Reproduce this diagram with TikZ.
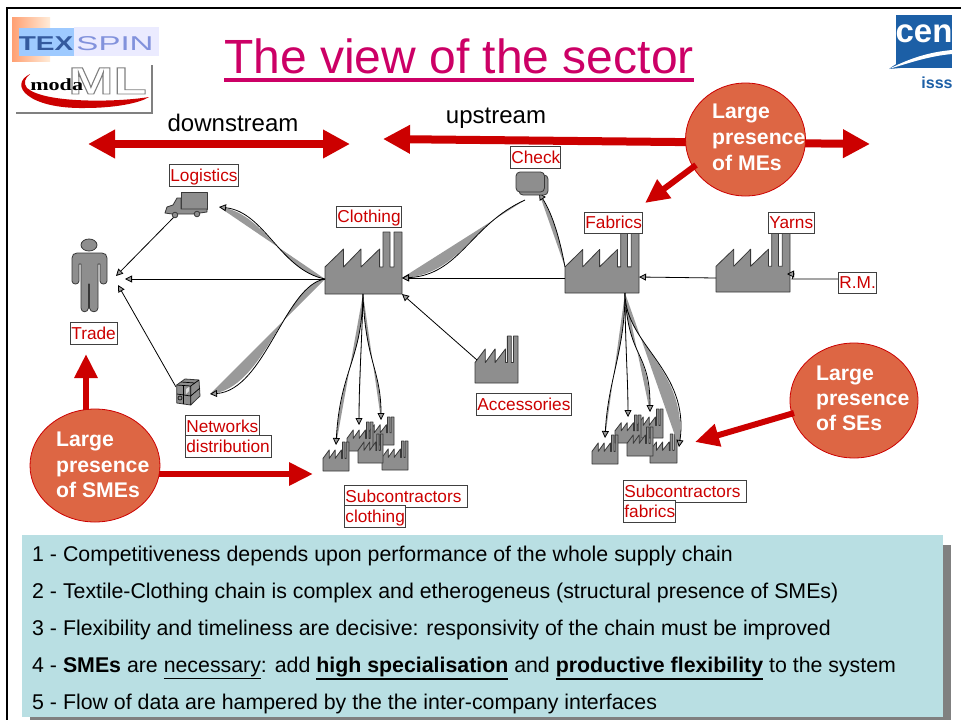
\documentclass[tikz,border=0pt]{standalone}
\usepackage{fontspec}
\setmainfont{Liberation Sans}
\newfontfamily\serifb{Liberation Serif}[BoldFont={Liberation Serif Bold}]
\usetikzlibrary{arrows.meta,shapes.geometric,shadings}
\definecolor{flowgray}{HTML}{9A9A9A}
\definecolor{plantgray}{HTML}{8E8E8E}
\definecolor{plantedge}{HTML}{383838}
\definecolor{redarrow}{HTML}{CC0000}
\definecolor{bubblefill}{HTML}{DD6644}
\definecolor{titlecol}{HTML}{CC0066}
\definecolor{panelcol}{HTML}{B9DFE3}
\definecolor{cenblue}{HTML}{1C5FA6}
\definecolor{texblue}{HTML}{345A9E}
\definecolor{spinblue}{HTML}{8292DC}
\newcommand{\sz}[1]{\fontsize{#1}{#1}\selectfont}
\newcommand{\ulbox}[3]{\leavevmode\vtop{\hbox{#3}\kern#1\hrule height #2}}
\tikzset{
  plantbit/.style={fill=plantgray,draw=plantedge,line width=.8pt,line join=round},
  factory/.pic={
    \path[plantbit] (0,35)--(18.5,17)--(18.5,35)--(36,17)--(36,35)--(54.6,17)--(54.6,35)--(58,35)
      --(58,0)--(65,0)--(65,35)--(69,35)--(69,0)--(77,0)--(77,62)--(0,62)--cycle;
  },
  lab/.style={draw=black!75,fill=white,text=redarrow,line width=.8pt,inner ysep=0pt,inner xsep=1pt,anchor=north west,
    font=\sz{17.25},text height=15pt,text depth=3.5pt,align=left},
  plainline/.style={draw=black,line width=.8pt,-{Triangle[length=7pt,width=7pt,fill=flowgray]}},
  flowline/.style={draw=black,line width=.8pt,-{Triangle[length=7pt,width=7pt,fill=flowgray]}},
  midarrow/.style={draw=redarrow,line width=6pt,-{Triangle[length=24pt,width=22pt,fill=redarrow]}},
  bubble/.style={ellipse,fill=bubblefill,draw=redarrow,line width=.8pt,inner sep=0pt},
  bubbletext/.style={text=white,font=\sz{21.2}\bfseries,align=left,anchor=west,inner sep=0pt},
  panelline/.style={anchor=base west,inner sep=0pt,font=\sz{21.33}}
}
\newcommand{\plant}[5]{%
  \pic[shift={(#2,#3)},xscale=#4/77,yscale=#5/62] {factory};\coordinate (#1) at (#2,#3);}
\newcommand{\flow}[4]{%
  \fill[flowgray] (#1) .. controls (#2) and (#3) .. (#4) -- cycle;
  \draw[flowline] (#1) .. controls (#2) and (#3) .. (#4);}
\begin{document}
\begin{tikzpicture}[x=1pt,y=-1pt]
\useasboundingbox (0,0) rectangle (961,720);
\fill[white] (0,0) rectangle (961,720);
% frame
\draw[black,line width=2.6pt] (7,720) -- (7,8) -- (961,8);

% TexSpin logo
\shade[left color=orange!65!red!55,right color=orange!15] (12,17) rectangle (50,61);
\fill[blue!8!white] (74,27) rectangle (159,56);
\fill[blue!55!cyan!38!white] (19,28) rectangle (74,56);
\node[anchor=base,inner sep=0,text=texblue,transform shape,xscale=1.4,font=\sz{20}\bfseries] (tex) at (46,50) {TEX};
\node[anchor=base,inner sep=0,text=spinblue,transform shape,xscale=1.65,font=\sz{20}] (spin) at (115,50) {SPIN};

% modaML logo
\fill[white] (16,65) rectangle (152,113);
\draw[black!50,line width=1.6pt] (16,113) -- (152,113) -- (152,65);
\fill[redarrow] (30,74) .. controls (8,85) and (28,109) .. (85,108) .. controls (115,108) and (140,103) .. (149,97) .. controls (120,102) and (45,104) .. (27,88) .. controls (23,83) and (25,78) .. (30,74);
\node[anchor=base west,inner sep=0,text=black!8,transform shape,xscale=1.43,font=\sz{38}\bfseries] (mltext) at (68,94)
  {\special{pdf:code 1 Tr 0.8 w 0.5 0.5 0.5 RG}ML\special{pdf:code 0 Tr}};
\node[anchor=base west,inner sep=0,text=black,transform shape,xscale=1.3,font=\serifb\sz{17}\bfseries] (moda) at (30,90) {moda};

% CEN logo
\fill[cenblue] (896,15) rectangle (952,68);
\fill[cenblue] (889,69) .. controls (893,66) and (896,64) .. (900,62) -- (900,68) -- cycle;
\fill[white] (889,69) .. controls (910,58) and (930,52) .. (952,50) -- (952,54) .. controls (930,56) and (912,62) .. (889,69) -- cycle;
\node[anchor=base,inner sep=0,text=white,font=\sz{33}\bfseries] (cen) at (924,42) {cen};
\node[anchor=base,inner sep=0,text=cenblue,font=\sz{16}\bfseries] (isss) at (937,88) {isss};

% title
\node[anchor=base west,inner sep=0,text=titlecol,font=\sz{48}] (title) at (224,73) {\ulbox{5pt}{3.6pt}{The view of the sector}};

% stream arrows
\node[anchor=base,inner sep=0,font=\sz{24}] (down) at (233,131) {downstream};
\node[anchor=base,inner sep=0,font=\sz{24}] (up) at (496,123) {upstream};
\coordinate (dl) at (88,144); \coordinate (dr) at (350,144);
\coordinate (ul) at (383,139); \coordinate (ur) at (870,144);
\draw[draw=redarrow,line width=8pt,{Triangle[length=27pt,width=27pt,fill=redarrow]}-{Triangle[length=27pt,width=27pt,fill=redarrow]}] (dl) -- (dr);
\draw[draw=redarrow,line width=8pt,{Triangle[length=27pt,width=27pt,fill=redarrow]}-{Triangle[length=27pt,width=27pt,fill=redarrow]}] (ul) -- (ur);

% plants
\plant{clothing}{325}{232}{77}{62}
\plant{fabrics}{565}{233}{74}{60}
\plant{yarns}{716}{233}{74}{59}
\plant{access}{475}{336}{43}{47}
\plant{cs5}{382}{441}{26}{29}
\plant{cs3}{368}{417}{26}{28}
\plant{cs2}{347}{422}{26}{29}
\plant{cs4}{358}{434}{25}{29}
\plant{cs1}{323}{442}{26}{29}
\plant{fs3}{637}{409}{26}{29}
\plant{fs2}{615}{415}{26}{28}
\plant{fs5}{650}{434}{27}{29}
\plant{fs4}{627}{427}{26}{29}
\plant{fs1}{592}{435}{26}{29}

% flow end points
\coordinate (cloL) at (325,279); \coordinate (cloR) at (402,278); \coordinate (cloB) at (363,294);
\coordinate (cloBR) at (402,294);
\coordinate (fabL) at (565,278); \coordinate (fabLup) at (565,267); \coordinate (fabR) at (639,277);
\coordinate (fabB) at (625,293); \coordinate (yarL) at (716,278);
\coordinate (logIn) at (219,207); \coordinate (logOut) at (174,217);
\coordinate (netIn) at (210,394); \coordinate (netOut) at (176,387);
\coordinate (trU) at (116,276); \coordinate (trM) at (125,279); \coordinate (trD) at (118,285);
\coordinate (chkIn) at (539,193); \coordinate (chkOut) at (525,200);
\coordinate (accOut) at (477,360);
\coordinate (csA) at (336,445); \coordinate (csB) at (359,425); \coordinate (csC) at (381,420);
\coordinate (fsA) at (605,438); \coordinate (fsB) at (628,417); \coordinate (fsC) at (650,412); \coordinate (fsD) at (679,447);

% curved flows
\flow{cloL}{280,270}{265,212}{logIn}
\flow{cloL}{285,285}{265,390}{netIn}
\flow{chkOut}{470,225}{460,275}{cloR}
\flow{fabLup}{560,240}{553,215}{chkIn}
\flow{cloB}{362,360}{340,370}{csA}
\flow{cloB}{362,340}{359,380}{csB}
\flow{cloB}{365,360}{381,370}{csC}
\flow{fabB}{625,350}{608,380}{fsA}
\flow{fabB}{625,340}{628,380}{fsB}
\flow{fabB}{628,360}{650,350}{fsC}
\flow{fabB}{625,345}{690,370}{fsD}

% straight flows
\draw[plainline] (cloL) -- (trM);
\draw[plainline] (logOut) -- (trU);
\draw[plainline] (netOut) -- (trD);
\draw[plainline] (fabL) -- (cloR);
\draw[plainline] (yarL) -- (fabR);
\draw[plainline] (accOut) -- (cloBR);

% person
\fill[plantgray,draw=plantedge,line width=.8pt] (89,245) ellipse (8 and 6);
\path[plantbit] (77,253) -- (102,253) .. controls (105,253) and (107,255) .. (107,258) -- (107,281)
  .. controls (107,285) and (100,285) .. (100,281) -- (100,264) -- (98,264) -- (98,308)
  .. controls (98,313) and (90,313) .. (89.5,308) -- (89.5,284) -- (88.5,284) -- (88.5,308)
  .. controls (88,313) and (81,313) .. (81,308) -- (81,264) -- (79,264) -- (79,281)
  .. controls (79,285) and (72,285) .. (72,281) -- (72,258) .. controls (72,255) and (74,253) .. (77,253) -- cycle;

% truck
\path[plantbit] (181,192) rectangle (207,209);
\path[plantbit] (181,198) -- (177,198) -- (173,205) -- (167,207) -- (165,213) -- (172,214)
   -- (193,214) -- (207,212) -- (207,209) -- (181,209) -- cycle;
\path[plantbit] (175,215) circle (2.8);
\path[plantbit] (197,214) circle (2.8);

% parcel
\path[plantbit] (176.7,385) -- (185,379) -- (199,380) -- (200,396) -- (190.7,405) -- (176.7,403) -- cycle;
\draw[black,line width=.7pt] (176.7,385) -- (190.7,386) -- (199,380) (190.7,386) -- (190.7,405)
  (177,394) -- (190.7,396) -- (200,388) (183.5,385.5) -- (183.5,404) (181,382) -- (195,383);
\draw[black,line width=.6pt] (180,398) circle (2);
\fill[white!70!plantgray] (186,389) -- (189,387) -- (189,391) -- (186,394) -- cycle;

% check document
\path[plantbit,rounded corners=4pt] (519,175) rectangle (548,195);
\path[plantbit,rounded corners=4pt] (516,172) rectangle (544.5,192);

% raw material connector
\coordinate (rmL) at (840,279);
\coordinate (yarR) at (787,274);
\draw[plainline] (rmL) -- (792,279) -- (794,274) -- (yarR);
\node[lab,text width=36pt,minimum height=21pt] (rm) at (838,271.5) {R.M.};

% labels
\node[lab,text width=67pt,minimum height=22pt] (logistics) at (169,164) {Logistics};
\node[lab,text width=48pt,minimum height=22pt] (check) at (510,146) {Check};
\node[lab,text width=63pt,minimum height=21pt] (clothinglab) at (336,206) {Clothing};
\node[lab,text width=56pt,minimum height=21pt] (fabricslab) at (584,212) {Fabrics};
\node[lab,text width=44pt,minimum height=21pt] (yarnslab) at (768,212) {Yarns};
\node[lab,text width=45pt,minimum height=22pt] (trade) at (70,322) {Trade};
\node[lab,text width=93pt,minimum height=22pt] (accessories) at (476,393) {Accessories};
\node[lab,text width=72pt,minimum height=22pt] (networks) at (185,415) {Networks};
\node[lab,text width=84pt,minimum height=22pt] (distribution) at (185,435) {distribution};
\node[lab,text width=121pt,minimum height=22pt] (subclo) at (344,485) {Subcontractors};
\node[lab,text width=59pt,minimum height=22pt] (clolab) at (344,505) {clothing};
\node[lab,text width=121pt,minimum height=22pt] (subfab) at (623,480) {Subcontractors};
\node[lab,text width=50pt,minimum height=22pt] (fablab) at (623,500) {fabrics};

% bubbles
\node[bubble,minimum width=130pt,minimum height=113pt] (smes) at (95,465.5) {};
\node[bubble,minimum width=120pt,minimum height=113pt] (mes) at (745.5,139.5) {};
\node[bubble,minimum width=128pt,minimum height=115pt] (ses) at (854,400.5) {};
\node[bubbletext] (smest) at (56,465) {Large\\[4.5pt]presence\\[4.5pt]of SMEs};
\node[bubbletext] (mest) at (712,137) {Large\\[4.8pt]presence\\[4.8pt]of MEs};
\node[bubbletext] (sest) at (816,398.5) {Large\\[4pt]presence\\[4pt]of SEs};

% bubble arrows
\coordinate (toTrade) at (86,354);
\coordinate (toCS) at (313,474);
\coordinate (toFab) at (645,203);
\coordinate (toFS) at (695,442);
\draw[midarrow] (86,410) -- (toTrade);
\draw[midarrow] (159,474) -- (toCS);
\draw[midarrow] (696,165) -- (toFab);
\draw[midarrow] (794,413) -- (toFS);

% panel
\fill[black!50] (30,545) rectangle (951,720);
\fill[panelcol] (22,535) rectangle (943,717);
\node[panelline] (l1) at (32,561) {1 - Competitiveness depends upon performance of the whole supply chain};
\node[panelline] (l2) at (32,598) {2 - Textile-Clothing chain is complex and etherogeneus (structural presence of SMEs)};
\node[panelline] (l3) at (32,635) {3 - Flexibility and timeliness are decisive: responsivity of the chain must be improved};
\node[panelline] (l4) at (32,672) {4 - \textbf{SMEs} are \ulbox{2pt}{1pt}{necessary}: add \ulbox{1.5pt}{2.2pt}{\textbf{high specialisation}} and \ulbox{1.5pt}{2.2pt}{\textbf{productive flexibility}} to the system};
\node[panelline] (l5) at (32,709) {5 - Flow of data are hampered by the the inter-company interfaces};
\end{tikzpicture}
\end{document}
